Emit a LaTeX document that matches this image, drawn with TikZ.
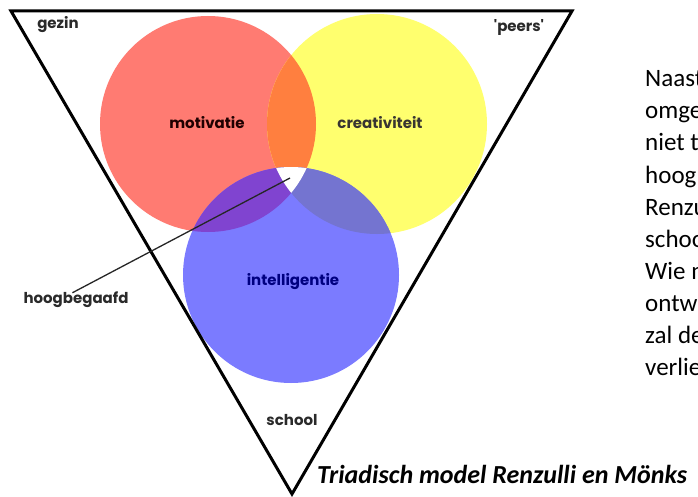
\documentclass[tikz,border=0pt]{standalone}
\usepackage{fontspec}
\setmainfont{Carlito}
\newfontfamily\labfont{Poppins}
\definecolor{cred}{HTML}{FF7B72}
\definecolor{corange}{HTML}{FF7F3F}
\definecolor{cyellow}{HTML}{FFFF6E}
\definecolor{cblue}{HTML}{7B7BFF}
\definecolor{cpurple}{HTML}{8044D0}
\definecolor{cslate}{HTML}{7474D0}
\definecolor{labdark}{HTML}{2A2A2A}
\tikzset{
  lab/.style={font=\labfont\bfseries\fontsize{15}{17}\selectfont, text=labdark, inner sep=1pt},
  bodytext/.style={font=\fontsize{25}{32}\selectfont, inner sep=0pt, text=black},
  frame/.style={line width=3pt, line join=miter, black},
  pointer/.style={line width=1.3pt, draw=black!85},
}
\begin{document}
\begin{tikzpicture}[x=1pt,y=-1pt]
\useasboundingbox (0,0) rectangle (698,497);
\fill[white] (0,0) rectangle (698,497);
% circles
\fill[cred] (208,124) circle[radius=108pt];
\fill[cyellow] (377,124) circle[radius=110pt];
\fill[cblue] (291,275) circle[radius=108pt];
\begin{scope}
  \clip (208,124) circle[radius=108pt];
  \fill[corange] (377,124) circle[radius=110pt];
  \fill[cpurple] (291,275) circle[radius=108pt];
\end{scope}
\begin{scope}
  \clip (377,124) circle[radius=110pt];
  \fill[cslate] (291,275) circle[radius=108pt];
\end{scope}
\begin{scope}
  \clip (208,124) circle[radius=108pt];
  \clip (377,124) circle[radius=110pt];
  \fill[white] (291,275) circle[radius=108pt];
\end{scope}
% triangle
\coordinate (tl) at (11,11);
\coordinate (tr) at (572,11);
\coordinate (tb) at (292,494);
\draw[frame] (tl) -- (tr) -- (tb) -- cycle;
% labels
\node[lab] (gezin) at (58,25) {gezin};
\node[lab] (peers) at (519,27) {'peers'};
\node[lab, text=black!80!red!60!black] (mot) at (207,123) {motivatie};
\node[lab, text=black!80!yellow!50!black] (cre) at (380,123) {creativiteit};
\node[lab, text=blue!50!black] (int) at (293,282) {intelligentie};
\node[lab] (hb) at (76,300) {hoogbegaafd};
\node[lab] (school) at (292,420) {school};
\coordinate (hbtip) at (290,178);
\draw[pointer, shorten <=-4pt] (hb.north) -- (hbtip);
% caption
\node[font=\bfseries\itshape\fontsize{26}{30}\selectfont, fill=white, inner xsep=1pt, inner ysep=2pt, anchor=base west] (cap) at (316,483) {Triadisch model Renzulli en Mönks};
% body text, cut at the right edge
\foreach \t [count=\i] in {Naast,omge,niet t,hoog,Renzu,schoo,Wie n,ontw,zal de,verlie}
  \node[bodytext, anchor=base west] (t\i) at (645,{87+32*(\i-1)}) {\t};
\end{tikzpicture}
\end{document}
